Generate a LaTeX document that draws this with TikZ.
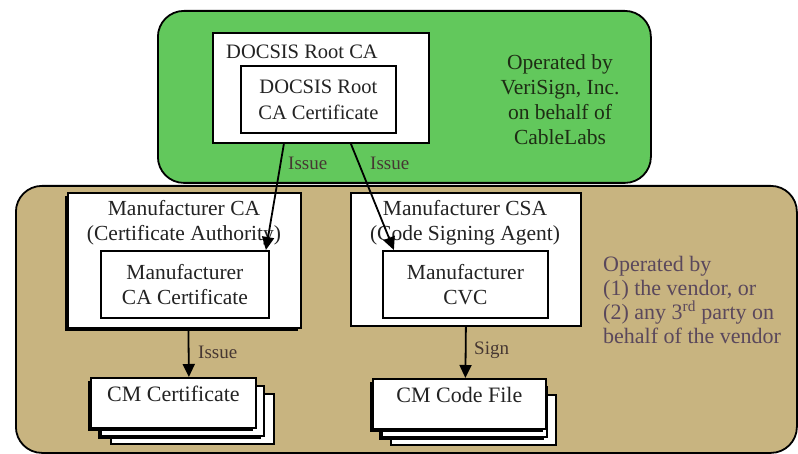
\documentclass[tikz,border=0pt]{standalone}
\usepackage{fontspec}
\setmainfont{Liberation Serif}
\usetikzlibrary{arrows.meta,positioning,shadows}
\definecolor{grn}{RGB}{98,200,92}
\definecolor{tan}{RGB}{200,180,128}
\definecolor{txt}{RGB}{35,35,35}
\definecolor{gtxt}{RGB}{30,45,20}
\definecolor{ttxt}{RGB}{90,72,92}
\definecolor{lbl}{RGB}{70,55,50}
\tikzset{
  every node/.style={font=\rmfamily\fontsize{21.5}{25}\selectfont, text=txt, inner sep=0pt},
  docsis/.style={font=\rmfamily\fontsize{20.5}{26}\selectfont},
  big/.style={font=\rmfamily\fontsize{22}{24}\selectfont},
  region/.style={draw=black, line width=1.8pt, rounded corners=26pt},
  box/.style={draw=black, fill=white, line width=1.8pt},
  sbox/.style={box, drop shadow={shadow xshift=-3pt, shadow yshift=-3pt, opacity=1, fill=black}},
  flow/.style={line width=1.8pt, -{Triangle[length=13pt,width=12pt]}},
  lab/.style={text=lbl, font=\rmfamily\fontsize{19}{23}\selectfont},
  rect/.style args={#1x#2}{minimum width=#1pt, minimum height=#2pt},
}
\begin{document}
\begin{tikzpicture}[x=1pt,y=-1pt]
\useasboundingbox (0,0) rectangle (798,454);
% regions
\node[region, fill=tan, rect=781x267, anchor=north west] (tanreg) at (15,185) {};
\node[region, fill=grn, rect=493x172, anchor=north west] (grnreg) at (157,10) {};
% top
\node[box, rect=216x110, anchor=north west] (rootca) at (212,32) {};
\node[docsis] (roottitle) at (302,52) {DOCSIS Root CA};
\node[box, docsis, rect=155x67, anchor=north west, align=center] (rootcert) at (240,65) {DOCSIS Root\\CA Certificate};
\node[text=gtxt, align=center] (optop) at (560,100) {Operated by\\VeriSign, Inc.\\on behalf of\\CableLabs};
% manufacturer CA
\node[sbox, rect=233x135, anchor=north west] (mca) at (67,192) {};
\node[align=center] (mcatitle) at (184,223) {Manufacturer CA\\(Certificate Authority)};
\node[box, rect=168x67, anchor=north west, align=center] (mcacert) at (100,250) {Manufacturer\\CA Certificate};
% manufacturer CSA
\node[box, rect=230x133, anchor=north west] (mcsa) at (350,192) {};
\node[align=center] (mcsatitle) at (465,223) {Manufacturer CSA\\(Code Signing Agent)};
\node[box, rect=165x67, anchor=north west, align=center] (cvc) at (382,250) {Manufacturer\\CVC};
% stacks
\node[box, rect=163x50, anchor=north west] (cmc3) at (110,393) {};
\node[sbox, rect=163x50, anchor=north west] (cmc2) at (100,385) {};
\node[sbox, rect=165x50, anchor=north west] (cmc) at (90,377) {};
\node[big, anchor=north] (cmctext) at (cmc.north) [yshift=-9pt] {CM Certificate};
\node[box, rect=165x50, anchor=north west] (cf3) at (390,394) {};
\node[sbox, rect=165x50, anchor=north west] (cf2) at (381,386) {};
\node[sbox, rect=173x50, anchor=north west] (cf) at (372,378) {};
\node[big, anchor=north] (cftext) at (cf.north) [yshift=-9pt] {CM Code File};
\node[big, text=ttxt, align=left, anchor=north west] (opbot) at (603,256) {Operated by\\(1) the vendor, or\\(2) any 3\textsuperscript{rd} party on\\behalf of the vendor};
% connectors
\draw[flow] ([xshift=-37pt]rootca.south) -- ([xshift=81pt]mcacert.north);
\draw[flow] ([xshift=30pt]rootca.south) -- ([xshift=-71.5pt]cvc.north);
\draw[flow] ([xshift=4pt]mca.south) -- ([xshift=15.5pt]cmc.north);
\draw[flow] (mcsa.south) -- ([xshift=6pt]cf.north);
\node[lab, anchor=west] (l1) at (288,163) {Issue};
\node[lab, anchor=west] (l2) at (370,163) {Issue};
\node[lab, anchor=west] (l3) at (198,352) {Issue};
\node[lab, anchor=west] (l4) at (474,350) {Sign};
\end{tikzpicture}
\end{document}
